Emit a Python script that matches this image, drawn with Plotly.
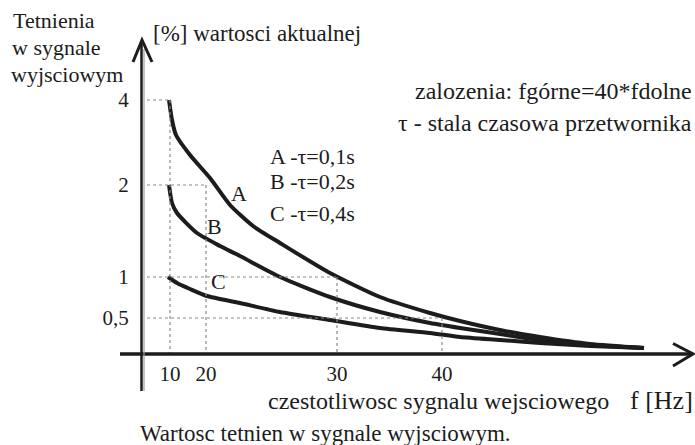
import plotly.graph_objects as go

# ---- data (schematic axis units, as drawn in the reference) ----
# x ticks: frequency labels and their positions on the schematic axis
x_tick_labels = ["10", "20", "30", "40"]
x_tick_pos = [2.7, 6.3, 19.4, 29.9]
# y ticks: ripple labels [%] and their positions on the schematic axis
y_tick_labels = ["4", "2", "1", "0,5"]
y_tick_pos = [25.4, 16.9, 7.7, 3.6]

curve_A_x = [2.6, 2.9, 3.3, 4.7, 6.7, 8.7, 11.0, 13.7, 18.7, 23.7, 28.7, 31.7, 35.7, 39.7, 44.7, 50.1]
curve_A_y = [25.4, 23.4, 21.9, 19.9, 17.6, 14.9, 12.8, 11.1, 8.1, 5.7, 4.1, 3.3, 2.4, 1.7, 1.0, 0.6]

curve_B_x = [2.6, 2.9, 3.4, 5.4, 7.7, 9.7, 13.7, 18.7, 23.7, 28.7, 31.7, 35.7, 39.7, 44.7, 50.1]
curve_B_y = [16.9, 15.1, 14.1, 12.1, 10.8, 9.8, 7.7, 5.7, 4.2, 3.1, 2.6, 2.0, 1.4, 0.9, 0.6]

curve_C_x = [2.5, 3.4, 4.7, 6.4, 9.7, 13.7, 18.7, 23.7, 28.7, 31.7, 35.7, 39.7, 44.7, 50.1]
curve_C_y = [7.7, 7.1, 6.5, 5.8, 5.1, 4.2, 3.4, 2.6, 2.1, 1.7, 1.4, 1.1, 0.8, 0.6]

series_names = ["A", "B", "C"]
series_legend = ["A -\u03c4=0,1s", "B -\u03c4=0,2s", "C -\u03c4=0,4s"]

# ---- figure ----
W, H = 695, 445
FONT = "'Liberation Serif', 'Times New Roman', Times, serif"
INK = "#1c1c1c"

fig = go.Figure()

for xs, ys in [(curve_A_x, curve_A_y), (curve_B_x, curve_B_y), (curve_C_x, curve_C_y)]:
    fig.add_trace(go.Scatter(x=xs, y=ys, mode="lines",
                             line=dict(color=INK, width=4, shape="spline", smoothing=0.6),
                             hoverinfo="skip", showlegend=False))

shapes = []
# dotted staircase guide lines (tick i on y paired with tick i on x)
for xp, yp in zip(x_tick_pos, y_tick_pos):
    shapes.append(dict(type="line", xref="x", yref="y", x0=0.4, x1=xp, y0=yp, y1=yp,
                       line=dict(color="#8a8a8a", width=1.2, dash="dot")))
    shapes.append(dict(type="line", xref="x", yref="y", x0=xp, x1=xp, y0=yp, y1=0,
                       line=dict(color="#8a8a8a", width=1.2, dash="dot")))

# axes with arrows
shapes.append(dict(type="line", xref="x", yref="y", x0=-2.3, x1=54.8, y0=0, y1=0,
                   line=dict(color=INK, width=3.5)))
shapes.append(dict(type="path", xref="x", yref="y",
                   path="M 53.0 1.05 L 55.0 0 L 53.0 -1.2",
                   line=dict(color=INK, width=3)))
shapes.append(dict(type="line", xref="x", yref="y", x0=-0.15, x1=-0.15, y0=-3.7, y1=31.2,
                   line=dict(color=INK, width=2.5)))
shapes.append(dict(type="line", xref="x", yref="y", x0=0.1, x1=0.1, y0=-3.7, y1=30.5,
                   line=dict(color="#9a9a9a", width=1.2)))
shapes.append(dict(type="path", xref="x", yref="y",
                   path="M -1.0 29.2 L -0.1 31.4 L 0.9 29.2",
                   line=dict(color=INK, width=3)))

fig.update_layout(shapes=shapes)


def ann(text, px, py, size=21, xanchor="left", yanchor="middle"):
    fig.add_annotation(text=text, xref="paper", yref="paper",
                       x=px / W, y=1 - py / H, xanchor=xanchor, yanchor=yanchor,
                       showarrow=False, font=dict(family=FONT, size=size, color=INK))


# y axis title (three lines)
ann("Tetnienia", 11, 21, size=22)
ann("w sygnale", 10, 48, size=22)
ann("wyjsciowym", 9, 75, size=22)
ann("[%] wartosci aktualnej", 151, 34, size=23)

ann("zalozenia: fgórne=40*fdolne", 694, 91, size=24, xanchor="right")
ann("\u03c4 - stala czasowa przetwornika", 694, 123, size=24, xanchor="right")

for i, (txt, by) in enumerate(zip(series_legend, [156, 181, 213])):
    ann(txt, 268, by, size=22)

# curve labels
for name, (lx, ly) in zip(series_names, [(229, 193), (205, 226), (209, 281)]):
    ann(name, lx, ly, size=22)

ann("czestotliwosc sygnalu wejsciowego", 266, 401, size=24)
ann("f [Hz]", 695, 400, size=26, xanchor="right")
ann("Wartosc tetnien w sygnale wyjsciowym.", 138, 433, size=23)

fig.update_layout(
    width=W, height=H,
    margin=dict(l=0, r=0, t=0, b=0),
    paper_bgcolor="white", plot_bgcolor="white",
    showlegend=False,
    xaxis=dict(range=[-14.3, 55.2], showgrid=False, zeroline=False, showline=False,
               tickmode="array", tickvals=x_tick_pos, ticktext=x_tick_labels,
               ticks="outside", ticklen=1, tickcolor="rgba(0,0,0,0)",
               tickfont=dict(family=FONT, size=21, color=INK),
               anchor="free", position=1 - 354 / H, automargin=False, fixedrange=True),
    yaxis=dict(range=[-9.1, 35.4], showgrid=False, zeroline=False, showline=False,
               tickmode="array", tickvals=y_tick_pos, ticktext=y_tick_labels,
               ticks="outside", ticklen=10, tickcolor="rgba(0,0,0,0)",
               tickfont=dict(family=FONT, size=21, color=INK),
               anchor="free", position=143 / W, automargin=False, fixedrange=True),
)

fig.write_html("out.html", config={"displayModeBar": False},
               post_script="document.body.style.margin='0px';document.body.style.overflow='hidden';")
